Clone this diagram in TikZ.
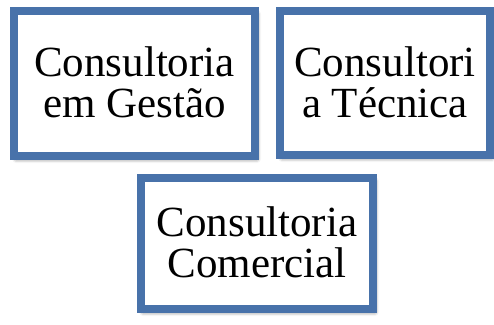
\documentclass[tikz,border=0pt]{standalone}
\usepackage{fontspec}
\setmainfont{Liberation Serif}
\usetikzlibrary{shadows.blur}
\definecolor{boxblue}{RGB}{72,114,170}
\tikzset{
  consbox/.style={draw=boxblue, line width=7.5pt, fill=white, align=center,
    inner sep=0pt, font=\fontsize{43}{41}\selectfont,
    blur shadow={shadow xshift=2pt, shadow yshift=-3pt, shadow blur radius=4pt, shadow opacity=65}}
}
\begin{document}
\begin{tikzpicture}[x=1pt, y=-1pt]
\useasboundingbox (0,0) rectangle (494,324);
\node[consbox, minimum width=241pt, minimum height=145pt] (gestao) at (134.5,83.5) {\raisebox{2pt}{Consultoria}\\\raisebox{2pt}{em Gestão}};
\node[consbox, minimum width=210pt, minimum height=144pt] (tecnica) at (385,83) {\raisebox{2pt}{Consultori}\\\raisebox{2pt}{a Técnica}};
\node[consbox, minimum width=232pt, minimum height=131pt] (comercial) at (257,243.5) {\raisebox{2pt}{Consultoria}\\\raisebox{2pt}{Comercial}};
\end{tikzpicture}
\end{document}
